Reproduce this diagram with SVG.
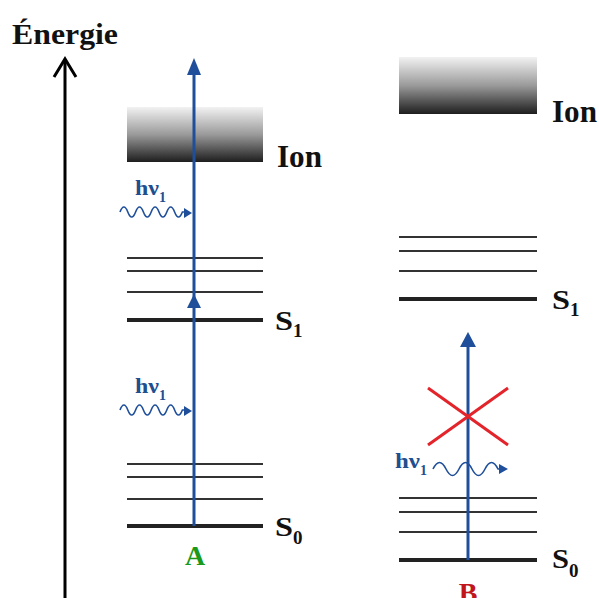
<svg xmlns="http://www.w3.org/2000/svg" width="599" height="598" viewBox="0 0 599 598">
<style>
.lvl{stroke:#333;stroke-width:2}
.lvlS{stroke:#222;stroke-width:4}
.lbl{font-family:"Liberation Serif",serif;font-weight:bold;fill:#111}
.hv{font-family:"Liberation Serif",serif;font-weight:bold;fill:#1f4f8f}
.blue{stroke:#1f4f9a;stroke-width:3;fill:none}
.head{fill:#1f4f9a}
.wave{stroke:#1f4f9a;stroke-width:1.6;fill:none}
</style>
<defs>
<linearGradient id="ion" x1="0" y1="0" x2="0" y2="1">
<stop offset="0" stop-color="#f2f2f2"/>
<stop offset="0.5" stop-color="#9a9a9a"/>
<stop offset="1" stop-color="#1e1e1e"/>
</linearGradient>
</defs>
<rect width="599" height="598" fill="#fff"/>

<g id="axis">
<line x1="65" y1="598" x2="65" y2="59" stroke="#000" stroke-width="3"/>
<path d="M54,77 L65,59 L76,77" fill="none" stroke="#000" stroke-width="3"/>
<text class="lbl" x="12" y="44" font-size="30" textLength="106" lengthAdjust="spacingAndGlyphs">Énergie</text>
</g>

<g id="panelA">
<g id="ionA"><rect x="127" y="107" width="136" height="55" fill="url(#ion)"/>
<text class="lbl" x="277" y="167" font-size="32" textLength="45" lengthAdjust="spacingAndGlyphs">Ion</text></g>
<g id="S1A">
<line class="lvl" x1="127" y1="258" x2="263" y2="258"/>
<line class="lvl" x1="127" y1="271" x2="263" y2="271"/>
<line class="lvl" x1="127" y1="292" x2="263" y2="292"/>
<line class="lvlS" x1="127" y1="320" x2="263" y2="320"/>
<text class="lbl" x="275" y="330" font-size="27" textLength="18" lengthAdjust="spacingAndGlyphs">S</text>
<text class="lbl" x="293" y="337" font-size="19">1</text></g>
<g id="S0A">
<line class="lvl" x1="127" y1="464" x2="263" y2="464"/>
<line class="lvl" x1="127" y1="477" x2="263" y2="477"/>
<line class="lvl" x1="127" y1="499" x2="263" y2="499"/>
<line class="lvlS" x1="127" y1="526" x2="263" y2="526"/>
<text class="lbl" x="275" y="536" font-size="27" textLength="18" lengthAdjust="spacingAndGlyphs">S</text>
<text class="lbl" x="293" y="544" font-size="19">0</text></g>
<text x="195" y="565" text-anchor="middle" font-family="Liberation Serif,serif" font-weight="bold" font-size="28" fill="#1a9a1a">A</text>
</g>

<g id="panelB">
<g id="ionB"><rect x="399" y="57" width="138" height="57" fill="url(#ion)"/>
<text class="lbl" x="552" y="122" font-size="32" textLength="45" lengthAdjust="spacingAndGlyphs">Ion</text></g>
<g id="S1B">
<line class="lvl" x1="399" y1="237" x2="537" y2="237"/>
<line class="lvl" x1="399" y1="251" x2="537" y2="251"/>
<line class="lvl" x1="399" y1="271" x2="537" y2="271"/>
<line class="lvlS" x1="399" y1="299" x2="537" y2="299"/>
<text class="lbl" x="552" y="309" font-size="27" textLength="18" lengthAdjust="spacingAndGlyphs">S</text>
<text class="lbl" x="570" y="316" font-size="19">1</text></g>
<g id="S0B">
<line class="lvl" x1="399" y1="498" x2="537" y2="498"/>
<line class="lvl" x1="399" y1="512" x2="537" y2="512"/>
<line class="lvl" x1="399" y1="532" x2="537" y2="532"/>
<line class="lvlS" x1="399" y1="560" x2="537" y2="560"/>
<text class="lbl" x="552" y="568" font-size="27" textLength="17" lengthAdjust="spacingAndGlyphs">S</text>
<text class="lbl" x="569" y="577" font-size="19">0</text></g>
<text x="468" y="602" text-anchor="middle" font-family="Liberation Serif,serif" font-weight="bold" font-size="28" fill="#c0161c">B</text>
</g>

<g id="connectors">
<line class="blue" x1="194" y1="526" x2="194" y2="70"/>
<path class="head" d="M187,75 L194,58 L201,75 Z"/>
<path class="head" d="M187,308 L194,294 L201,308 Z"/>
<line class="blue" x1="468" y1="560" x2="468" y2="344"/>
<path class="head" d="M460,347 L468,332 L476,347 Z"/>
<path class="wave" d="M120,212 q3.9,-10 7.8,0 t7.8,0 t7.8,0 t7.8,0 t7.8,0 t7.8,0 t7.8,0 t7.8,0 l3,0"/>
<path class="head" d="M184,208 L192,213 L184,218 Z"/>
<text class="hv" x="135" y="195" font-size="20" textLength="24" lengthAdjust="spacingAndGlyphs">hν</text>
<text class="hv" x="159" y="202" font-size="14">1</text>
<path class="wave" d="M120,410 q3.9,-10 7.8,0 t7.8,0 t7.8,0 t7.8,0 t7.8,0 t7.8,0 t7.8,0 t7.8,0 l3,0"/>
<path class="head" d="M184,406 L192,411 L184,416 Z"/>
<text class="hv" x="135" y="393" font-size="20" textLength="24" lengthAdjust="spacingAndGlyphs">hν</text>
<text class="hv" x="159" y="400" font-size="14">1</text>
<path class="wave" d="M433,469 q6.5,-13 13,0 t13,0 t13,0 t13,0 t13,0 l6,0"/>
<path class="head" d="M499,464 L508,469 L499,474 Z"/>
<text class="hv" x="395" y="468" font-size="20" textLength="25" lengthAdjust="spacingAndGlyphs">hν</text>
<text class="hv" x="420" y="475" font-size="14">1</text>
<g id="cross" stroke="#e3242b" stroke-width="3">
<line x1="428" y1="388" x2="508" y2="445"/>
<line x1="508" y1="388" x2="428" y2="445"/>
</g>
</g>
</svg>
